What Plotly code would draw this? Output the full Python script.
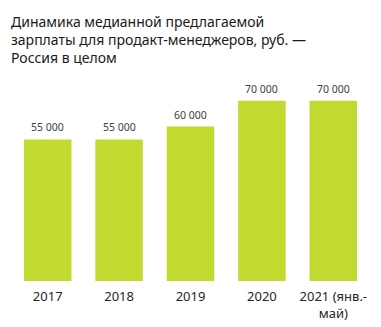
import plotly.graph_objects as go

# Median offered salary for product managers, RUB — Russia overall
years = ["2017", "2018", "2019", "2020", "2021"]
tick_labels = ["2017", "2018", "2019", "2020", "2021 (янв.-<br>май)"]
salary = [55000, 55000, 60000, 70000, 70000]

title_text = ("Динамика медианной предлагаемой<br>"
              "зарплаты для продакт-менеджеров, руб. —<br>"
              "Россия в целом")

bar_color = "#C2D92F"
text_color = "#404040"


def fmt(v):
    # thousands separated by a space: 55000 -> "55 000"
    return f"{v:,.0f}".replace(",", " ")


fig = go.Figure(
    go.Bar(
        x=years,
        y=salary,
        marker=dict(color=bar_color, line=dict(width=0)),
        width=0.665,
        hoverinfo="x+y",
    )
)

# value labels above each bar (category index on the x axis)
for i, v in enumerate(salary):
    fig.add_annotation(
        x=i, y=v, text=fmt(v),
        xref="x", yref="y",
        yanchor="bottom", yshift=3,
        showarrow=False,
        font=dict(family="Noto Sans", size=10.5, color=text_color),
    )

fig.update_layout(
    width=381,
    height=327,
    paper_bgcolor="white",
    plot_bgcolor="white",
    margin=dict(l=12, r=12, t=88, b=46),
    showlegend=False,
    title=dict(
        text=title_text,
        xref="container",
        yref="container",
        x=11 / 381,
        xanchor="left",
        y=1 - 27 / 327,
        yanchor="top",
        font=dict(family="Noto Sans", size=14, color="#1a1a1a"),
        pad=dict(t=0, b=0, l=0, r=0),
    ),
    xaxis=dict(
        type="category",
        tickmode="array",
        tickvals=years,
        ticktext=tick_labels,
        range=[-0.5, 4.5],
        automargin=False,
        showgrid=False,
        showline=False,
        zeroline=False,
        ticks="",
        ticklabelstandoff=6,
        tickfont=dict(family="Noto Sans", size=13, color="#262626"),
    ),
    yaxis=dict(
        range=[0, 75000],
        visible=False,
    ),
)

fig.write_html("out.html")
